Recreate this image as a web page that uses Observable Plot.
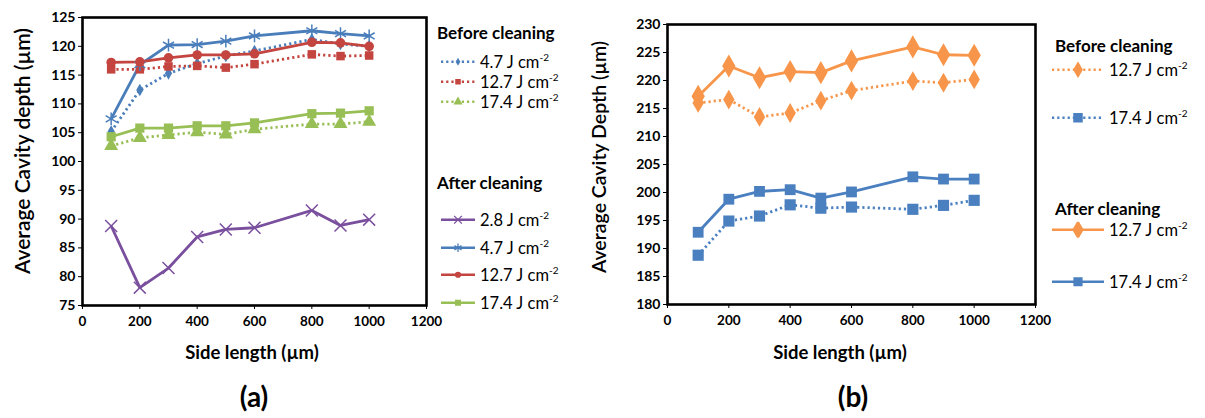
<!DOCTYPE html>
<html><head><meta charset="utf-8">
<script src="https://cdn.jsdelivr.net/npm/d3@7"></script>
<script src="https://cdn.jsdelivr.net/npm/@observablehq/plot@0.6"></script>
<style>
body{margin:0;background:#fff;font-family:Lato,"Open Sans",sans-serif;}
#root{position:relative;width:1205px;height:418px;overflow:hidden;background:#fff;}
#root svg text{font-weight:700 !important;fill:#000;}
.abs{position:absolute;white-space:nowrap;color:#000;}
.ylab{transform:translate(-50%,-50%) rotate(-90deg);}
.ctr{transform:translate(-50%,-50%);}
.lh{font-weight:bold;font-size:17px;}
.li{font-size:16.5px;display:flex;align-items:center;}
.li sup{font-size:10px;position:relative;top:-1px;}
.li svg{margin-right:5px;}
</style></head><body><div id="root"></div>
<script>
// ---------- data ----------
const sideLength = [100, 200, 300, 400, 500, 600, 800, 900, 1000];
const xTicks = [0, 200, 400, 600, 800, 1000, 1200];
const yTicksA = [75, 80, 85, 90, 95, 100, 105, 110, 115, 120, 125];
const yTicksB = [180, 185, 190, 195, 200, 205, 210, 215, 220, 225, 230];

// Panel (a)
const aBefore47  = [105.2, 112.4, 115.3, 117.0, 118.3, 119.2, 121.2, 120.4, 120.0];
const aBefore127 = [116.0, 116.0, 116.5, 116.6, 116.3, 116.9, 118.6, 118.3, 118.4];
const aBefore174 = [102.7, 104.1, 104.6, 105.1, 104.7, 105.6, 106.5, 106.5, 106.9];
const aAfter28   = [88.8, 78.1, 81.5, 86.9, 88.2, 88.5, 91.5, 88.9, 89.9];
const aAfter47   = [107.4, 116.8, 120.2, 120.3, 120.9, 121.8, 122.7, 122.2, 121.8];
const aAfter127  = [117.2, 117.3, 118.0, 118.5, 118.5, 118.7, 120.7, 120.6, 120.0];
const aAfter174  = [104.3, 105.8, 105.8, 106.2, 106.2, 106.7, 108.3, 108.4, 108.8];

// Panel (b)
const bBefore127 = [216.0, 216.6, 213.5, 214.2, 216.4, 218.2, 219.9, 219.6, 220.2];
const bBefore174 = [188.8, 194.9, 195.8, 197.8, 197.2, 197.4, 197.0, 197.7, 198.6];
const bAfter127  = [217.2, 222.6, 220.5, 221.6, 221.4, 223.5, 226.0, 224.6, 224.5];
const bAfter174  = [192.9, 198.8, 200.2, 200.5, 199.0, 200.1, 202.8, 202.4, 202.4];

const labelsA = {before: ["4.7", "12.7", "17.4"], after: ["2.8", "4.7", "12.7", "17.4"]};
const labelsB = {before: ["12.7", "17.4"], after: ["12.7", "17.4"]};

// ---------- styles ----------
const C = {purple: "#7a4f9e", blue: "#4a7ebb", red: "#c4443f", green: "#98bf55", orange: "#f7964a", blue2: "#4a7fc0"};
const DOT = "2.2 3";

const seriesA = [
  {v: aBefore47,  color: C.blue,   dash: DOT, symbol: "diamond", r: 3.8},
  {v: aBefore127, color: C.red,    dash: DOT, symbol: "square",  r: 4.8},
  {v: aBefore174, color: C.green,  dash: DOT, symbol: "triangle",r: 5.2},
  {v: aAfter28,   color: C.purple, dash: null, symbol: "times",   r: 5.5},
  {v: aAfter47,   color: C.blue,   dash: null, symbol: "asterisk",r: 6},
  {v: aAfter127,  color: C.red,    dash: null, symbol: "circle",  r: 4.8},
  {v: aAfter174,  color: C.green,  dash: null, symbol: "square",  r: 5.2}
];
const seriesB = [
  {v: bBefore127, color: C.orange, dash: DOT, symbol: "diamond", r: 6},
  {v: bBefore174, color: C.blue2,  dash: DOT, symbol: "square",  r: 6.3},
  {v: bAfter127,  color: C.orange, dash: null, symbol: "diamond", r: 7},
  {v: bAfter174,  color: C.blue2,  dash: null, symbol: "square",  r: 6.1}
];

const strokeOnly = new Set(["times", "asterisk", "plus"]);

function makePanel(series, yDomain, yTicks, opts) {
  const marks = [
    Plot.axisX({ticks: xTicks, tickSize: 4, tickPadding: 7, fontSize: 13.5, fontWeight: "bold", tickFormat: d => String(d), label: null}),
    Plot.axisY({ticks: yTicks, tickSize: 4, tickPadding: 3, fontSize: 14, fontWeight: "bold", tickFormat: d => String(d), label: null})
  ];
  for (const s of series) {
    const data = sideLength.map((x, i) => ({x, y: s.v[i]}));
    marks.push(Plot.line(data, {x: "x", y: "y", stroke: s.color, strokeWidth: 2.8,
      strokeDasharray: s.dash || undefined, strokeLinecap: "butt"}));
  }
  for (const s of series) {
    const data = sideLength.map((x, i) => ({x, y: s.v[i]}));
    const so = strokeOnly.has(s.symbol);
    marks.push(Plot.dot(data, {x: "x", y: "y", symbol: s.symbol, r: s.r,
      fill: so ? "none" : s.color, stroke: so ? s.color : "none", strokeWidth: so ? 1.5 : 0}));
  }
  marks.push(Plot.frame({stroke: "#000", strokeWidth: 2.6}));
  return Plot.plot({
    width: opts.width, height: opts.height,
    marginLeft: opts.ml, marginRight: opts.mr, marginTop: opts.mt, marginBottom: opts.mb,
    x: {domain: [0, 1200]},
    y: {domain: yDomain},
    style: {fontFamily: "Lato, sans-serif", fontWeight: "bold", color: "#000", background: "transparent", overflow: "visible"},
    marks
  });
}

const root = document.getElementById("root");
function place(el, left, top) {
  el.style.position = "absolute"; el.style.left = left + "px"; el.style.top = top + "px";
  root.appendChild(el);
}
function text(html, x, y, cls, css) {
  const d = document.createElement("div");
  d.className = "abs " + (cls || "");
  d.innerHTML = html;
  d.style.left = x + "px"; d.style.top = y + "px";
  Object.assign(d.style, css || {});
  root.appendChild(d);
  return d;
}

const pa = makePanel(seriesA, [75, 125], yTicksA, {width: 440, height: 372, ml: 82, mr: 14, mt: 17, mb: 67});
place(pa, 0, 0);
const pb = makePanel(seriesB, [180, 230], yTicksB, {width: 470, height: 372, ml: 87, mr: 15, mt: 24, mb: 68});
place(pb, 580, 0);

// axis titles
text("Average Cavity depth (µm)", 21, 151, "ylab", {fontSize: "21px", fontWeight: "600"});
text("Average Cavity Depth (µm)", 598, 157, "ylab", {fontSize: "19.5px", fontWeight: "600"});
text("Side length (µm)", 252, 352, "ctr", {fontSize: "18.5px", fontWeight: "bold"});
text("Side length (µm)", 840, 352, "ctr", {fontSize: "18.5px", fontWeight: "bold"});
text("(a)", 254, 396, "ctr", {fontSize: "28px", fontWeight: "bold"});
text("(b)", 853, 396, "ctr", {fontSize: "28px", fontWeight: "bold"});

// legend swatches
const symMap = {diamond: d3.symbolDiamond, square: d3.symbolSquare, triangle: d3.symbolTriangle,
  times: d3.symbolTimes, asterisk: d3.symbolAsterisk, circle: d3.symbolCircle};
function swatch(s, w, scale) {
  const svg = d3.create("svg").attr("width", w).attr("height", 16);
  svg.append("line").attr("x1", 0).attr("x2", w).attr("y1", 8).attr("y2", 8)
    .attr("stroke", s.color).attr("stroke-width", 2.6)
    .attr("stroke-dasharray", s.dash || null);
  const so = strokeOnly.has(s.symbol);
  const r = s.r * scale;
  svg.append("path").attr("transform", `translate(${w / 2},8)`)
    .attr("d", d3.symbol(symMap[s.symbol], Math.PI * r * r)())
    .attr("fill", so ? "none" : s.color).attr("stroke", so ? s.color : "none").attr("stroke-width", 1.3);
  return svg.node();
}
function legendItem(s, label, x, y, w, scale) {
  const d = text("", x, y, "li", {transform: "translateY(-50%)"});
  d.appendChild(swatch(s, w, scale));
  const t = document.createElement("span");
  t.innerHTML = `${label} J cm<sup>-2</sup>`;
  d.appendChild(t);
}

// legend (a)
text("Before cleaning", 437, 32, "lh", {transform: "translateY(-50%)"});
labelsA.before.forEach((l, i) => legendItem(seriesA[i], l, 441, 62 + i * 20, 34, 0.65));
text("After cleaning", 437, 182, "lh", {transform: "translateY(-50%)"});
labelsA.after.forEach((l, i) => legendItem(seriesA[3 + i], l, 441, 220 + i * 27.5, 34, 0.65));

// legend (b)
text("Before cleaning", 1055, 45, "lh", {transform: "translateY(-50%)"});
labelsB.before.forEach((l, i) => legendItem(seriesB[i], l, 1052, 70 + i * 48, 52, 0.85));
text("After cleaning", 1055, 208, "lh", {transform: "translateY(-50%)"});
labelsB.after.forEach((l, i) => legendItem(seriesB[2 + i], l, 1052, 230 + i * 52, 52, 0.85));
</script></body></html>
